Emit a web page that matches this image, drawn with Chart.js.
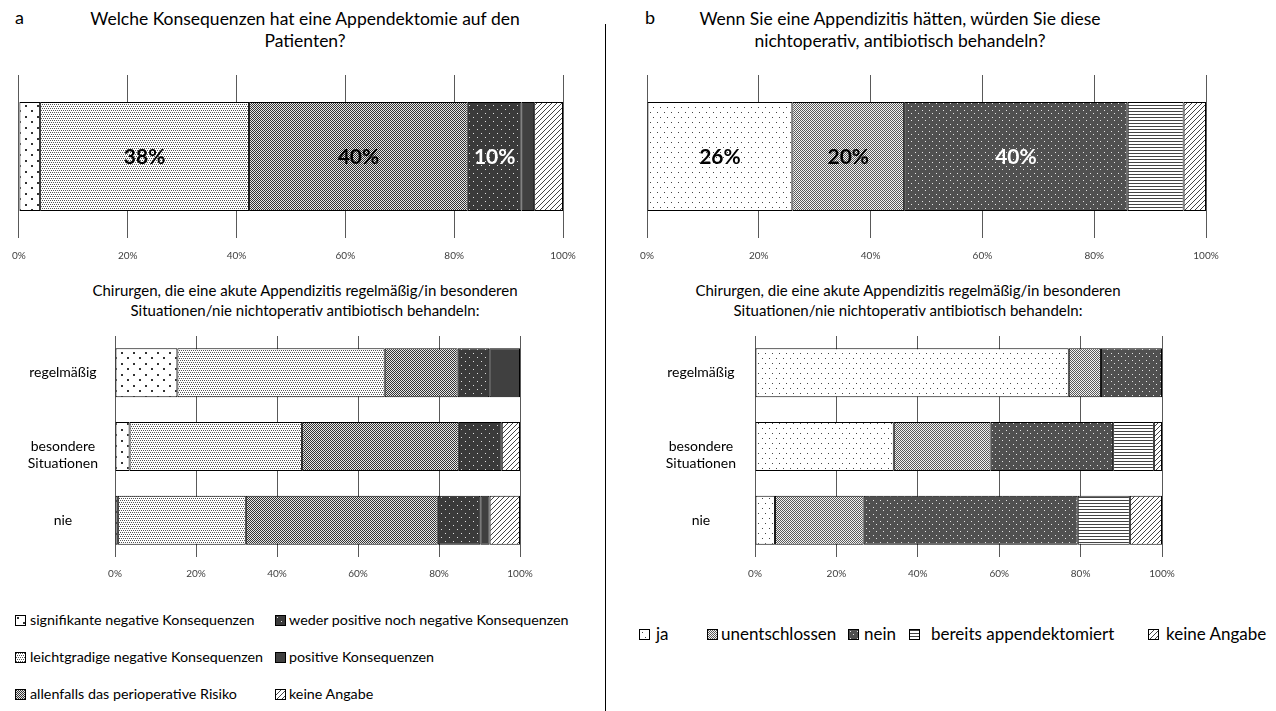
<!DOCTYPE html>
<html lang="de">
<head>
<meta charset="utf-8">
<script src="https://cdn.jsdelivr.net/npm/chart.js@4"></script>
<style>
  body { margin: 0; background: #fff; font-family: Lato, sans-serif; color: #000; }
  #page { position: relative; width: 1276px; height: 711px; overflow: hidden; }
  .box { position: absolute; }
  .titel { position: absolute; text-align: center; font-size: 17.5px; line-height: 22px; }
  .untertitel { position: absolute; text-align: center; font-size: 15px; line-height: 20px; }
  .buchstabe { position: absolute; font-size: 18px; }
  .leg { position: absolute; white-space: nowrap; line-height: 20px; }
  .feld { position: absolute; border: 1px solid #000; }
  #teiler { position: absolute; left: 605px; top: 24px; width: 1px; height: 690px; background: #000; }
</style>
</head>
<body>
<div id="page">
  <div class="buchstabe" style="left:15px; top:6px;">a</div>
  <div class="titel" style="left:55px; width:500px; top:8px;">Welche Konsequenzen hat eine Appendektomie auf den<br>Patienten?</div>
  <div class="buchstabe" style="left:645px; top:6px;">b</div>
  <div class="titel" style="left:650px; width:500px; top:8px;">Wenn Sie eine Appendizitis hätten, würden Sie diese<br>nichtoperativ, antibiotisch behandeln?</div>

  <div class="box" style="left:0; top:60px;"><canvas id="obenA" width="600" height="214"></canvas></div>
  <div class="box" style="left:620px; top:60px;"><canvas id="obenB" width="620" height="214"></canvas></div>

  <div class="untertitel" style="left:5px; width:600px; top:280px;">Chirurgen, die eine akute Appendizitis regelmäßig/in besonderen<br>Situationen/nie nichtoperativ antibiotisch behandeln:</div>
  <div class="untertitel" style="left:608px; width:600px; top:280px;">Chirurgen, die eine akute Appendizitis regelmäßig/in besonderen<br>Situationen/nie nichtoperativ antibiotisch behandeln:</div>

  <div class="box" style="left:0; top:296px;"><canvas id="untenA" width="560" height="295"></canvas></div>
  <div class="box" style="left:620px; top:296px;"><canvas id="untenB" width="580" height="295"></canvas></div>

  <div id="legendeA"></div>
  <div id="legendeB"></div>
  <div id="teiler"></div>
</div>
<script>
// Antwortkategorien und Werte (Anteile in %)
const kategorienA = ['signifikante negative Konsequenzen', 'leichtgradige negative Konsequenzen',
  'allenfalls das perioperative Risiko', 'weder positive noch negative Konsequenzen',
  'positive Konsequenzen', 'keine Angabe'];
const gesamtA = [3.9, 38.4, 40.2, 9.9, 2.3, 5.3];
const etikettenA = ['', '38%', '40%', '10%', '', ''];

const kategorienB = ['ja', 'unentschlossen', 'nein', 'bereits appendektomiert', 'keine Angabe'];
const gesamtB = [26, 20, 40, 10, 4];
const etikettenB = ['26%', '20%', '40%', '', ''];

const gruppen = ['regelmäßig', ['besondere', 'Situationen'], 'nie'];
const regelmaessigA = [15.4, 51.2, 18.0, 7.8, 7.6, 0];
const besondereA = [3.6, 42.6, 38.7, 10.6, 0, 4.5];
const nieA = [0.7, 31.6, 47.4, 10.5, 2.3, 7.5];
const regelmaessigB = [77.1, 7.9, 15.0, 0, 0];
const besondereB = [34.1, 23.8, 30.1, 10.0, 2.0];
const nieB = [4.9, 21.8, 52.6, 12.8, 7.9];

const xTicks = [0, 20, 40, 60, 80, 100];

// Schraffuren
function muster(w, h, bg, zeichne) {
  const c = document.createElement('canvas');
  c.width = w; c.height = h;
  const g = c.getContext('2d');
  g.fillStyle = bg;
  g.fillRect(0, 0, w, h);
  zeichne(g);
  return g.createPattern(c, 'repeat');
}
function punkte(farbe, liste, gr) {
  return g => {
    g.fillStyle = farbe;
    liste.forEach(p => g.fillRect(p[0], p[1], gr, gr));
  };
}
const diagonal = () => muster(5, 5, '#fff', g => {
  g.strokeStyle = '#444';
  g.lineWidth = 1;
  g.beginPath();
  g.moveTo(-1, 6); g.lineTo(6, -1);
  g.moveTo(-1, 1); g.lineTo(1, -1);
  g.moveTo(4, 6); g.lineTo(6, 4);
  g.stroke();
});

const musterA = [
  muster(12, 11, '#fff', punkte('#333', [[1, 1], [7, 6]], 2)),
  muster(4, 4, '#fff', punkte('#555', [[0, 0], [2, 0], [1, 2], [3, 2]], 1)),
  muster(2, 2, '#e6e6e6', punkte('#333', [[0, 0], [1, 1]], 1)),
  muster(8, 8, '#3a3a3a', punkte('#e0e0e0', [[1, 1], [5, 5]], 1)),
  '#404040',
  diagonal()
];
const musterB = [
  muster(7, 10, '#fff', punkte('#444', [[2, 2], [5, 7]], 1)),
  muster(2, 2, '#f4f4f4', punkte('#5a5a5a', [[0, 0], [1, 1]], 1)),
  muster(7, 7, '#505050', punkte('#e6e6e6', [[1, 1], [4, 4]], 1)),
  muster(4, 3, '#fff', g => { g.fillStyle = '#444'; g.fillRect(0, 0, 4, 1); }),
  diagonal()
];

// Prozentangaben in den Segmenten
const segmentText = {
  id: 'segmentText',
  afterDatasetsDraw(chart, args, opts) {
    if (!opts.texte) return;
    const ctx = chart.ctx;
    ctx.save();
    ctx.font = 'bold 21px Lato';
    ctx.textAlign = 'center';
    ctx.textBaseline = 'middle';
    chart.data.datasets.forEach((ds, i) => {
      const t = opts.texte[i];
      if (!t) return;
      const bar = chart.getDatasetMeta(i).data[0];
      ctx.fillStyle = opts.farben[i];
      ctx.fillText(t, (bar.x + bar.base) / 2, bar.y + 1);
    });
    ctx.restore();
  }
};

function xAchse(abstand) {
  return {
    stacked: true,
    min: 0,
    max: 100,
    afterBuildTicks: s => { s.ticks = xTicks.map(v => ({ value: v })); },
    ticks: { callback: v => v + '%', color: '#404040', font: { family: 'Lato', size: 10 }, padding: abstand, maxRotation: 0 },
    grid: { color: '#595959', lineWidth: 1, drawTicks: false },
    border: { display: false }
  };
}

function obenChart(id, kategorien, werte, farben, texte, textFarben, pad) {
  new Chart(document.getElementById(id), {
    type: 'bar',
    data: {
      labels: [''],
      datasets: kategorien.map((k, i) => ({
        label: k,
        data: [werte[i]],
        backgroundColor: farben[i],
        borderColor: '#000',
        borderWidth: 1,
        borderSkipped: false,
        barPercentage: 0.67,
        categoryPercentage: 1
      }))
    },
    options: {
      indexAxis: 'y',
      responsive: false,
      animation: false,
      layout: { padding: pad },
      scales: {
        x: xAchse(12),
        y: { stacked: true, display: false }
      },
      plugins: {
        legend: { display: false },
        tooltip: { enabled: false },
        segmentText: { texte, farben: textFarben }
      }
    },
    plugins: [segmentText]
  });
}

function untenChart(id, kategorien, reihen, farben, achsenBreite, labelAbstand, pad) {
  new Chart(document.getElementById(id), {
    type: 'bar',
    data: {
      labels: gruppen,
      datasets: kategorien.map((k, i) => ({
        label: k,
        data: reihen.map(r => r[i]),
        backgroundColor: farben[i],
        borderColor: '#000',
        borderWidth: 1,
        borderSkipped: false,
        barPercentage: 0.665,
        categoryPercentage: 1
      }))
    },
    options: {
      indexAxis: 'y',
      responsive: false,
      animation: false,
      layout: { padding: pad },
      scales: {
        x: xAchse(11),
        y: {
          stacked: true,
          grid: { display: false, drawTicks: false },
          border: { display: false },
          ticks: {
            color: '#000',
            font: { family: 'Lato', size: 14 },
            crossAlign: 'center',
            padding: labelAbstand,
            // zweizeilige Beschriftung etwas tiefer setzen, wie im Original
            callback: function (v) {
              const l = this.getLabelForValue(v);
              return Array.isArray(l) ? [''].concat(l) : l;
            }
          },
          afterFit: s => { s.width = achsenBreite; }
        }
      },
      plugins: {
        legend: { display: false },
        tooltip: { enabled: false }
      }
    }
  });
}

obenChart('obenA', kategorienA, gesamtA, musterA, etikettenA,
  ['#000', '#000', '#000', '#fff', '#000', '#000'], { left: 14, right: 37, top: 15, bottom: 0 });
obenChart('obenB', kategorienB, gesamtB, musterB, etikettenB,
  ['#000', '#000', '#fff', '#000', '#000'], { left: 27, right: 34, top: 15, bottom: 0 });
untenChart('untenA', kategorienA, [regelmaessigA, besondereA, nieA], musterA, 115, 17, { left: 0, right: 40, top: 40, bottom: 0 });
untenChart('untenB', kategorienB, [regelmaessigB, besondereB, nieB], musterB, 135, 19, { left: 0, right: 38, top: 40, bottom: 0 });

// Legenden: [x Feld, x Text, y Mitte]
function legende(ziel, kategorien, farben, positionen, schrift, gr) {
  const el = document.getElementById(ziel);
  kategorien.forEach((k, i) => {
    const [fx, tx, y] = positionen[i];
    const c = document.createElement('canvas');
    c.className = 'feld';
    c.width = gr; c.height = gr;
    c.style.left = fx + 'px';
    c.style.top = (y - gr / 2 - 1) + 'px';
    const g = c.getContext('2d');
    g.fillStyle = farben[i];
    g.fillRect(0, 0, gr, gr);
    el.appendChild(c);
    const s = document.createElement('div');
    s.className = 'leg';
    s.style.left = tx + 'px';
    s.style.top = (y - 10) + 'px';
    s.style.fontSize = schrift + 'px';
    s.textContent = k;
    el.appendChild(s);
  });
}
legende('legendeA', kategorienA, musterA,
  [[15, 30, 620], [15, 30, 657], [15, 30, 694], [275, 289, 620], [275, 289, 657], [275, 289, 694]], 14.3, 9);
legende('legendeB', kategorienB, musterB,
  [[639, 656, 634], [707, 721, 634], [848, 864, 634], [909, 931, 634], [1148, 1166, 634]], 17, 9);
</script>
</body>
</html>
